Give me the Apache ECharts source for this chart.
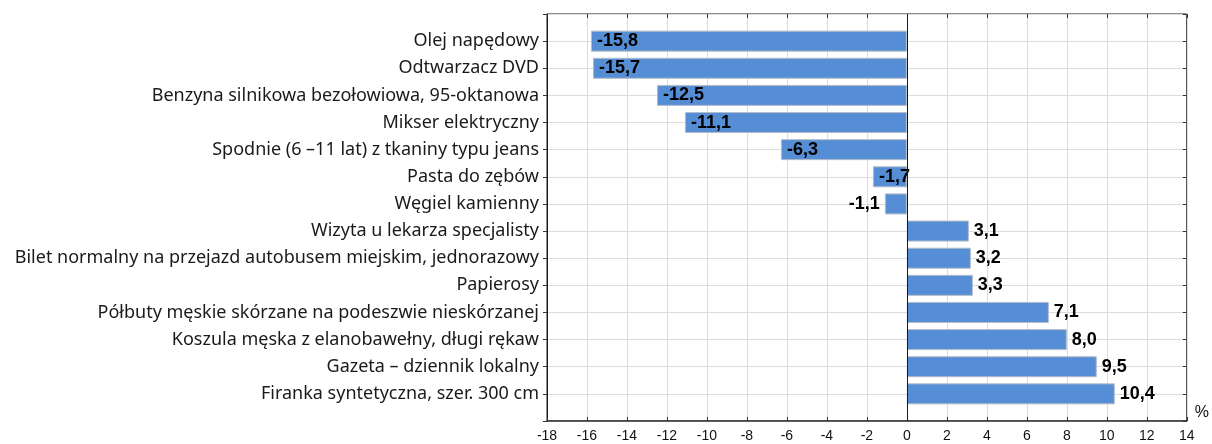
<!DOCTYPE html>
<html>
<head>
<meta charset="utf-8">
<script src="https://cdn.jsdelivr.net/npm/echarts@6/dist/echarts.min.js"></script>
<style>
  html, body { margin: 0; padding: 0; background: #fff; }
  #chart { width: 1212px; height: 444px; }
</style>
</head>
<body>
<div id="chart"></div>
<script>
// kategorie od góry do dołu
var categories = [
  'Olej napędowy',
  'Odtwarzacz DVD',
  'Benzyna silnikowa bezołowiowa, 95-oktanowa',
  'Mikser elektryczny',
  'Spodnie (6 –11 lat) z tkaniny typu jeans',
  'Pasta do zębów',
  'Węgiel kamienny',
  'Wizyta u lekarza specjalisty',
  'Bilet normalny na przejazd autobusem miejskim, jednorazowy',
  'Papierosy',
  'Półbuty męskie skórzane na podeszwie nieskórzanej',
  'Koszula męska z elanobawełny, długi rękaw',
  'Gazeta – dziennik lokalny',
  'Firanka syntetyczna, szer. 300 cm'
];
var values = [-15.8, -15.7, -12.5, -11.1, -6.3, -1.7, -1.1, 3.1, 3.2, 3.3, 7.1, 8.0, 9.5, 10.4];
// etykiety wartości poza słupkiem (z lewej)
var outsideLeft = ['Węgiel kamienny'];

var xMin = -18, xMax = 14, xStep = 2;

// puste kategorie na brzegach -> odstęp jak w oryginale
var axisData = [''].concat(categories, ['']);

var barData = [null];
categories.forEach(function (c, i) {
  var v = values[i];
  var item = { value: v };
  if (v < 0) {
    item.label = outsideLeft.indexOf(c) >= 0
      ? { position: 'left', distance: 5 }
      : { position: 'insideLeft', distance: 6 };
  } else {
    item.label = { position: 'right', distance: 5 };
  }
  barData.push(item);
});
barData.push(null);

var chart = echarts.init(document.getElementById('chart'));

var option = {
  backgroundColor: '#ffffff',
  animation: false,
  grid: {
    left: 547, right: 24, top: 14, bottom: 23,
    show: true, borderColor: '#1a1a1a', borderWidth: 1
  },
  xAxis: [{
    type: 'value',
    position: 'bottom',
    min: xMin, max: xMax, interval: xStep,
    name: '%',
    nameLocation: 'end',
    nameGap: 8,
    nameTextStyle: { fontFamily: 'Liberation Sans', fontSize: 16, color: '#111', verticalAlign: 'bottom' },
    axisLine: { show: true, onZero: false, lineStyle: { color: '#333', width: 1.5 } },
    axisTick: { show: true, inside: true, length: 4, lineStyle: { color: '#333' } },
    axisLabel: {
      fontFamily: 'Liberation Sans', fontSize: 14, color: '#111', margin: 8,
      formatter: function (v) { return String(v); }
    },
    splitLine: { show: true, lineStyle: { color: '#dcdcdc', width: 1 } }
  }, {
    type: 'value',
    position: 'top',
    min: xMin, max: xMax, interval: xStep,
    axisLine: { show: false },
    axisTick: { show: true, inside: true, length: 4, lineStyle: { color: '#333' } },
    axisLabel: { show: false },
    splitLine: { show: false }
  }],
  yAxis: [{
    type: 'category',
    data: axisData,
    inverse: true,
    boundaryGap: false,
    position: 'left',
    axisLine: { show: true, onZero: false, lineStyle: { color: '#1a1a1a' } },
    axisTick: { show: true, inside: false, length: 4, interval: 0, lineStyle: { color: '#333' } },
    axisLabel: {
      interval: 0, margin: 8,
      fontFamily: 'Noto Sans', fontSize: 18, color: '#1a1a1a'
    },
    splitLine: { show: true, interval: 0, lineStyle: { color: '#dcdcdc', width: 1 } }
  }, {
    type: 'category',
    data: axisData,
    inverse: true,
    boundaryGap: false,
    position: 'right',
    axisLine: { show: false, onZero: false },
    axisTick: { show: true, inside: true, length: 4, interval: 0, lineStyle: { color: '#333' } },
    axisLabel: { show: false },
    splitLine: { show: false }
  }],
  series: [{
    type: 'bar',
    xAxisIndex: 0,
    yAxisIndex: 0,
    data: barData,
    barWidth: 21,
    itemStyle: { color: '#558ed5', borderColor: '#b4bcc8', borderWidth: 1 },
    label: {
      show: true,
      fontFamily: 'Liberation Sans', fontWeight: 'bold', fontSize: 18, color: '#000',
      formatter: function (p) { return p.value.toFixed(1).replace('.', ','); }
    },
    markLine: {
      silent: true,
      symbol: ['none', 'none'],
      label: { show: false },
      lineStyle: { color: '#1a1a1a', type: 'solid', width: 1 },
      data: [{ xAxis: 0 }]
    }
  }]
};

chart.setOption(option);
</script>
</body>
</html>
